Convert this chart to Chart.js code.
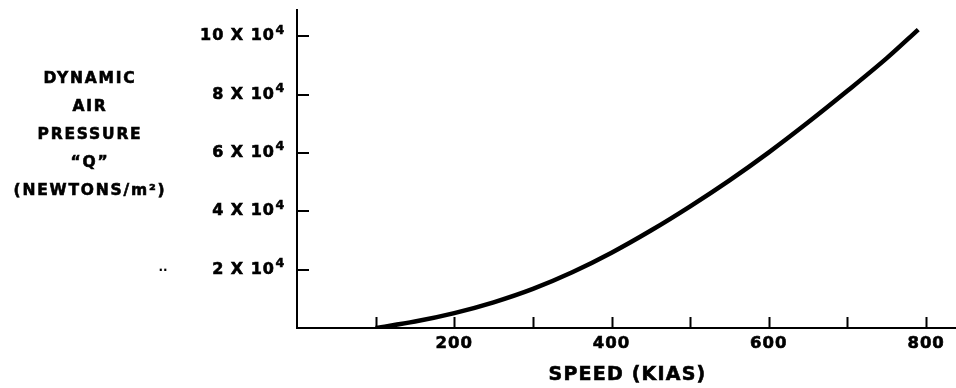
<!DOCTYPE html>
<html>
<head>
<meta charset="utf-8">
<script src="https://cdn.jsdelivr.net/npm/chart.js@4.4.1/dist/chart.umd.min.js"></script>
<style>
  html, body { margin: 0; padding: 0; background: #fff; }
  canvas { display: block; }
</style>
</head>
<body>
<canvas id="qChart" width="956" height="388"></canvas>
<script>
// speed (KIAS) vs dynamic pressure Q (N/m2)
const speeds = [100, 150, 200, 250, 300, 350, 400, 450, 500, 550, 600, 650, 700, 750, 790];
const qValues = [0, 2200, 5100, 8800, 13400, 19100, 25800, 33400, 41700, 50600, 60200, 70500, 81300, 92500, 102300];

const xTicks = [100, 200, 300, 400, 500, 600, 700, 800];
const xLabelled = [200, 400, 600, 800];
const yTicks = [20000, 40000, 60000, 80000, 100000];
const yLabels = ['2 X 10', '4 X 10', '6 X 10', '8 X 10', '10 X 10'];
const ySup = '4';

const titleLines = ['DYNAMIC', 'AIR', 'PRESSURE', '\u201CQ\u201D', '(NEWTONS/m\u00B2)'];
const xTitle = 'SPEED (KIAS)';

const FONT = "'DejaVu Sans', 'Liberation Sans', sans-serif";
const Y_PAD = 22;

function heavyText(ctx, text, x, y, w) {
  ctx.lineWidth = w;
  ctx.strokeText(text, x, y);
  ctx.fillText(text, x, y);
}

// inward tick marks, exponents, and the titles
const decorPlugin = {
  id: 'decor',
  beforeDraw(chart) {
    chart.ctx.letterSpacing = '1px';
  },
  afterDraw(chart) {
    const ctx = chart.ctx;
    const xs = chart.scales.x;
    const ys = chart.scales.y;
    const area = chart.chartArea;
    ctx.save();
    ctx.strokeStyle = '#000';
    ctx.lineWidth = 2;
    ctx.beginPath();
    xTicks.forEach(v => {
      const px = Math.round(xs.getPixelForValue(v)) + 0.5;
      ctx.moveTo(px, area.bottom);
      ctx.lineTo(px, area.bottom - 11);
    });
    yTicks.forEach(v => {
      const py = Math.round(ys.getPixelForValue(v));
      ctx.moveTo(area.left, py);
      ctx.lineTo(area.left + 12, py);
    });
    ctx.stroke();

    ctx.fillStyle = '#000';
    ctx.textBaseline = 'middle';

    // exponent after each y label
    ctx.font = 'bold 12.5px ' + FONT;
    ctx.letterSpacing = '0px';
    ctx.textAlign = 'left';
    yTicks.forEach(v => {
      heavyText(ctx, ySup, area.left - Y_PAD + 0.5, ys.getPixelForValue(v) - 6, 0.5);
    });

    ctx.font = 'bold 15.5px ' + FONT;
    ctx.letterSpacing = '1.8px';
    ctx.textAlign = 'center';
    titleLines.forEach((t, i) => {
      heavyText(ctx, t, 90, 78.5 + i * 28.2, 0.6);
    });

    ctx.font = 'bold 19px ' + FONT;
    ctx.letterSpacing = '1.2px';
    heavyText(ctx, xTitle, (xs.left + xs.right) / 2 + 1, 375, 0.6);

    ctx.font = 'bold 12px ' + FONT;
    ctx.letterSpacing = '0px';
    ctx.fillText('..', 163, 268);
    ctx.restore();
  }
};

const ctx = document.getElementById('qChart').getContext('2d');
const qChart = new Chart(ctx, {
  type: 'line',
  data: {
    datasets: [{
      data: speeds.map((s, i) => ({ x: s, y: qValues[i] })),
      borderColor: '#000',
      borderWidth: 4.5,
      pointRadius: 0,
      cubicInterpolationMode: 'monotone',
      fill: false
    }]
  },
  options: {
    responsive: false,
    animation: false,
    layout: { padding: 0 },
    plugins: {
      legend: { display: false },
      tooltip: { enabled: false }
    },
    scales: {
      x: {
        type: 'linear',
        min: 0,
        max: 838,
        afterBuildTicks: axis => { axis.ticks = xTicks.map(v => ({ value: v })); },
        afterFit: axis => { axis.height = 60; axis.paddingRight = 0; axis.paddingLeft = 0; },
        grid: { display: false, drawTicks: false },
        border: { display: true, color: '#000', width: 2 },
        ticks: {
          autoSkip: false,
          maxRotation: 0,
          padding: 6,
          color: '#000',
          textStrokeColor: '#000',
          textStrokeWidth: 0.6,
          font: { family: FONT, size: 16.5, weight: 'bold' },
          callback: v => xLabelled.includes(v) ? String(v) : ''
        }
      },
      y: {
        type: 'linear',
        min: 0,
        max: 109000,
        afterBuildTicks: axis => { axis.ticks = yTicks.map(v => ({ value: v })); },
        afterFit: axis => { axis.width = 297; axis.paddingTop = 10; axis.paddingBottom = 0; },
        grid: { display: false, drawTicks: false },
        border: { display: true, color: '#000', width: 2 },
        ticks: {
          padding: Y_PAD,
          color: '#000',
          textStrokeColor: '#000',
          textStrokeWidth: 0.6,
          font: { family: FONT, size: 16, weight: 'bold' },
          callback: v => yLabels[yTicks.indexOf(v)]
        }
      }
    }
  },
  plugins: [decorPlugin]
});
</script>
</body>
</html>
